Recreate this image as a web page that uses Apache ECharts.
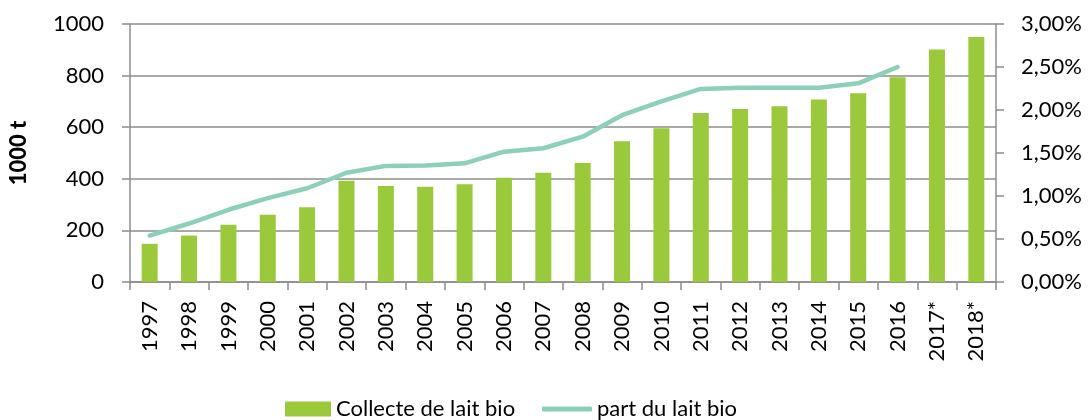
<!DOCTYPE html>
<html>
<head>
<meta charset="utf-8">
<script src="https://cdn.jsdelivr.net/npm/echarts@6/dist/echarts.min.js"></script>
<style>
html,body{margin:0;padding:0;background:#fff;}
#chart{width:1089px;height:420px;}
</style>
</head>
<body>
<div id="chart"></div>
<script>
var categories = ['1997','1998','1999','2000','2001','2002','2003','2004','2005','2006','2007','2008','2009','2010','2011','2012','2013','2014','2015','2016','2017*','2018*'];
var collecte = [148,180,222,261,290,392,372,369,379,404,423,461,546,596,655,671,681,707,732,794,901,950];
var part = [0.54,0.68,0.84,0.975,1.09,1.27,1.35,1.355,1.38,1.515,1.555,1.69,1.94,2.10,2.245,2.26,2.26,2.26,2.31,2.50,null,null];
var leftTicks = {min:0, max:1000, interval:200};
var rightTicks = {min:0, max:3, interval:0.5};

var FONT = 'Lato';
var FS = 22;
var GRID_COLOR = '#8c8c8c';
var chart = echarts.init(document.getElementById('chart'), null, {renderer:'canvas'});
chart.setOption({
  animation:false,
  textStyle:{fontFamily:FONT},
  grid:{left:123,right:93,top:24,bottom:138,containLabel:false},
  legend:[{
    data:['Collecte de lait bio'],
    left:280, top:393,
    icon:'rect', itemWidth:46, itemHeight:15,
    textStyle:{fontFamily:FONT,fontSize:FS,color:'#000'}
  },{
    data:['part du lait bio'],
    left:537, top:393,
    icon:'roundRect', itemWidth:50, itemHeight:5,
    textStyle:{fontFamily:FONT,fontSize:FS,color:'#000'}
  }],
  xAxis:{
    type:'category', data:categories, boundaryGap:true,
    axisLine:{show:true,lineStyle:{color:GRID_COLOR,width:1.5}},
    axisTick:{show:true,length:8,lineStyle:{color:GRID_COLOR,width:1.5}},
    axisLabel:{rotate:90,margin:19,fontFamily:FONT,fontSize:FS,color:'#000',interval:0}
  },
  yAxis:[{
    type:'value', min:leftTicks.min, max:leftTicks.max, interval:leftTicks.interval,
    name:'1000 t', nameLocation:'middle', nameGap:100, nameRotate:90,
    nameTextStyle:{fontFamily:FONT,fontSize:FS,fontWeight:900,color:'#000'},
    axisLine:{show:true,lineStyle:{color:GRID_COLOR,width:1.5}},
    axisTick:{show:true,length:8,lineStyle:{color:GRID_COLOR,width:1.5}},
    splitLine:{show:true,lineStyle:{color:GRID_COLOR,width:1.5}},
    axisLabel:{margin:26,fontFamily:FONT,fontSize:FS,color:'#000',
      formatter:function(v){return String(v);}}
  },{
    type:'value', position:'right', min:rightTicks.min, max:rightTicks.max, interval:rightTicks.interval,
    axisLine:{show:true,lineStyle:{color:GRID_COLOR,width:1.5}},
    axisTick:{show:true,length:8,lineStyle:{color:GRID_COLOR,width:1.5}},
    splitLine:{show:false},
    axisLabel:{margin:25,fontFamily:FONT,fontSize:FS,color:'#000',
      formatter:function(v){return v.toFixed(2).replace('.',',')+'%';}}
  }],
  series:[{
    name:'Collecte de lait bio', type:'bar', data:collecte, yAxisIndex:0,
    barWidth:16, itemStyle:{color:'#9aca3c'}
  },{
    name:'part du lait bio', type:'line', data:part, yAxisIndex:1,
    symbol:'none', smooth:false,
    lineStyle:{color:'#8dd0b8',width:4.5,cap:'round',join:'round'},
    itemStyle:{color:'#8dd0b8'}
  }]
});
</script>
</body>
</html>
